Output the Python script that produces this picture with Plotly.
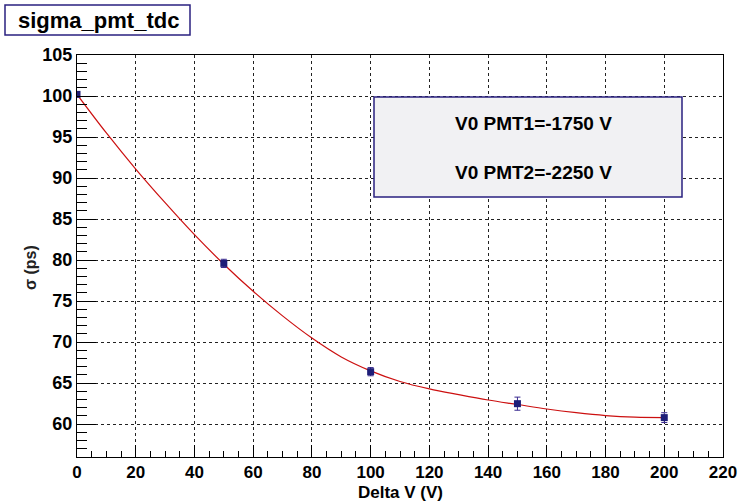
import plotly.graph_objects as go

# measured points
delta_v = [0, 50, 100, 150, 200]
sigma_ps = [100.2, 79.6, 66.4, 62.5, 60.8]
sigma_err = [0.3, 0.5, 0.5, 0.8, 0.6]

# fit curve
fit_x = [0, 10, 20, 30, 40, 50, 60, 70, 80, 90, 100, 110, 120, 130, 140, 150, 160, 170, 180, 190, 200]
fit_y = [100.2, 95.5, 91.1, 87.0, 83.1, 79.5, 76.2, 73.2, 70.5, 68.2, 66.5, 65.2, 64.3, 63.6, 62.95, 62.4, 61.85, 61.4, 61.05, 60.85, 60.8]

# tick labels
x_ticks = [0, 20, 40, 60, 80, 100, 120, 140, 160, 180, 200, 220]
y_ticks = [60, 65, 70, 75, 80, 85, 90, 95, 100, 105]

title_text = "sigma_pmt_tdc"
pave_lines = ["V0 PMT1=-1750 V", "V0 PMT2=-2250 V"]
x_title = "Delta V (V)"
y_title = "σ (ps)"

FONT = "Liberation Sans, Arial, Helvetica, sans-serif"

fig = go.Figure()
fig.add_trace(go.Scatter(x=fit_x, y=fit_y, mode="lines", line=dict(color="#cc1010", width=1.2, shape="spline"),
                         hoverinfo="skip", showlegend=False))
fig.add_trace(go.Scatter(x=delta_v, y=sigma_ps, mode="markers",
                         marker=dict(symbol="square", size=7, color="#1e1e78"),
                         error_y=dict(type="data", array=sigma_err, color="#3a2a90", thickness=1, width=3),
                         showlegend=False))

L, R, T, B = 77, 19, 55, 44
W, H = 742, 501
pw, ph = W - L - R, H - T - B

def px(x):
    return (x - L) / pw

def py(y):
    return (H - B - y) / ph

fig.update_layout(
    width=W, height=H,
    margin=dict(l=L, r=R, t=T, b=B),
    paper_bgcolor="white", plot_bgcolor="white",
    font=dict(family=FONT, color="black", size=17, weight="bold"),
    xaxis=dict(range=[0, 220], tickmode="array", tickvals=x_ticks, ticktext=[f"<b>{v}</b>" for v in x_ticks],
               ticks="inside", ticklen=12, tickwidth=1, tickcolor="black",
               showline=True, linecolor="black", linewidth=1, mirror=True,
               showgrid=True, gridcolor="#222", griddash="dot", gridwidth=1, zeroline=False,
               minor=dict(dtick=5, tick0=0, ticks="inside", ticklen=6, tickcolor="black", showgrid=False),
               tickfont=dict(size=17, family=FONT, weight="bold", color="black"),
               automargin=False),
    yaxis=dict(range=[56, 105], tickmode="array", tickvals=y_ticks, ticktext=[f"<b>{v}</b>" for v in y_ticks],
               ticks="inside", ticklen=19, tickwidth=1, tickcolor="black",
               showline=True, linecolor="black", linewidth=1, mirror=True,
               showgrid=True, gridcolor="#222", griddash="dot", gridwidth=1, zeroline=False,
               minor=dict(dtick=1, tick0=0, ticks="inside", ticklen=10, tickcolor="black", showgrid=False),
               tickfont=dict(size=18, family=FONT, weight="bold", color="black"),
               automargin=False),
)

# axis titles
fig.add_annotation(xref="paper", yref="paper", x=px(400), y=py(492), text=x_title, showarrow=False,
                   font=dict(size=17, family=FONT, weight="bold", color="black"), xanchor="center", yanchor="middle")
fig.add_annotation(xref="paper", yref="paper", x=px(30), y=py(268), text=y_title, showarrow=False, textangle=-90,
                   font=dict(size=16, family=FONT, weight="bold", color="#222"), xanchor="center", yanchor="middle")

# title box
fig.add_shape(type="rect", xref="paper", yref="paper", x0=px(5), x1=px(190), y0=py(35), y1=py(5),
              line=dict(color="#2a2080", width=1.5), fillcolor="white", layer="above")
fig.add_annotation(xref="paper", yref="paper", x=px(98), y=py(20), text=title_text, showarrow=False,
                   font=dict(size=22, family=FONT, weight="bold"), xanchor="center", yanchor="middle")

# pave text box
fig.add_shape(type="rect", xref="paper", yref="paper", x0=px(374), x1=px(682), y0=py(197), y1=py(97),
              line=dict(color="#2a2080", width=1.5), fillcolor="#f1f1f3", layer="above")
for txt, yy in zip(pave_lines, [123, 172]):
    fig.add_annotation(xref="paper", yref="paper", x=px(533), y=py(yy), text=txt, showarrow=False,
                       font=dict(size=19, family=FONT, weight="bold"), xanchor="center", yanchor="middle")

fig.write_html("out.html")
